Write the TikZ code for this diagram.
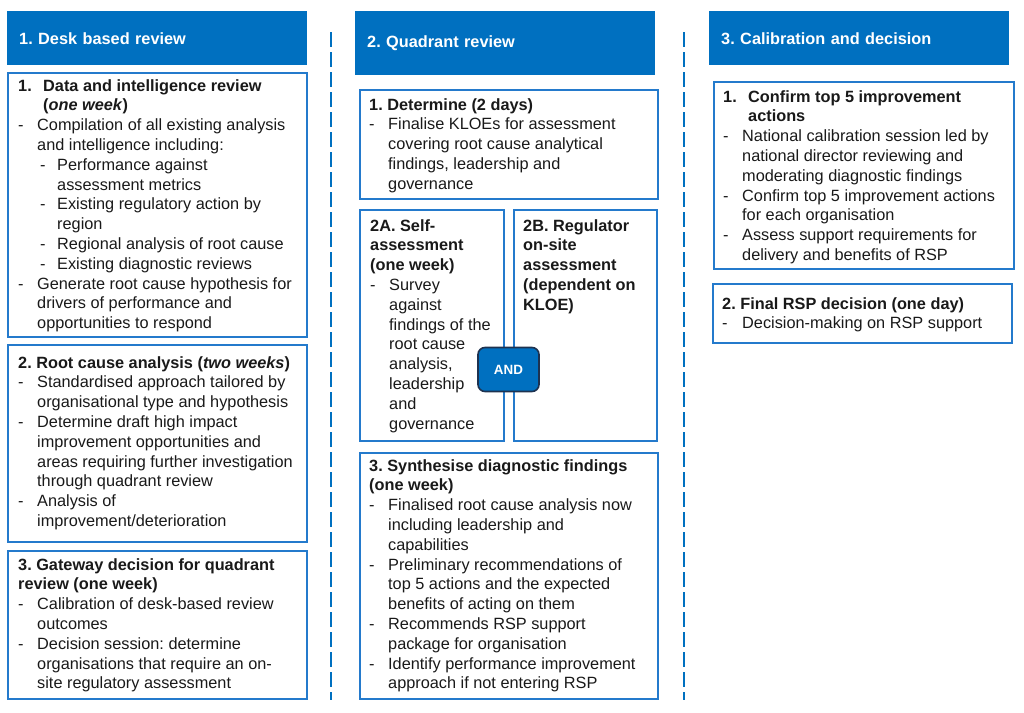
\documentclass[tikz,border=0pt]{standalone}
\usepackage{fontspec}
\setmainfont{Liberation Sans}
\frenchspacing
\definecolor{hdrblue}{HTML}{0070C0}
\definecolor{boxblue}{RGB}{36,122,204}
\definecolor{andedge}{RGB}{30,50,80}
\definecolor{txtcol}{RGB}{25,25,25}
\newcommand{\brk}{\newline}
\newcommand{\hit}[4]{\par\hangindent=#2\hangafter=1\noindent\hspace*{#1}\makebox[\dimexpr#2-#1\relax][l]{#3}#4}
\newcommand{\blk}[1]{\begin{minipage}[t]{300pt}\fontsize{16.3}{19.8}\selectfont\frenchspacing#1\end{minipage}}
\tikzset{
  hdr/.style={fill=hdrblue, draw=none, text=white, font=\fontsize{16.3}{19.8}\selectfont\bfseries\frenchspacing,
    inner xsep=12pt, inner ysep=0pt, text width=276pt, align=left, anchor=north west},
  box/.style={draw=boxblue, line width=2pt, inner sep=0pt, anchor=north west},
  txt/.style={inner sep=0pt, anchor=base west, text=txtcol},
  sep/.style={draw=hdrblue, line width=2pt, dash pattern=on 15pt off 5pt},
  andbox/.style={fill=hdrblue, draw=andedge, line width=1.6pt, rounded corners=7pt, text=white,
    font=\fontsize{13.4}{16}\selectfont\bfseries, minimum width=61pt, minimum height=44pt, inner sep=0pt}
}
\begin{document}
\begin{tikzpicture}[x=1pt,y=-1pt]
\useasboundingbox (0,0) rectangle (1024,712);
% headers
\node[hdr, minimum height=54pt] (h1) at (7,11) {1. Desk based review};
\node[hdr, minimum height=64pt] (h2) at (355,11) {2. Quadrant review};
\node[hdr, minimum height=54pt] (h3) at (709,11) {3. Calibration and decision};
% separators
\coordinate (d1t) at (331,32); \coordinate (d1b) at (331,700);
\coordinate (d2t) at (684,32); \coordinate (d2b) at (684,700);
\draw[sep] (d1t) -- (d1b);
\draw[sep] (d2t) -- (d2b);
% column 1 boxes
\node[box, minimum width=299pt, minimum height=264pt] (b11) at (7,72) {};
\node[box, minimum width=299pt, minimum height=197pt] (b12) at (7,344) {};
\node[box, minimum width=299pt, minimum height=148pt] (b13) at (7,550) {};
% column 2 boxes
\node[box, minimum width=298pt, minimum height=109pt] (b21) at (359,89) {};
\node[box, minimum width=144pt, minimum height=231pt] (b2a) at (359,209) {};
\node[box, minimum width=143pt, minimum height=231pt] (b2b) at (513,209) {};
\node[box, minimum width=298pt, minimum height=246pt] (b23) at (359,452) {};
% column 3 boxes
\node[box, minimum width=300pt, minimum height=187pt] (b31) at (713,81) {};
\node[box, minimum width=299pt, minimum height=59pt] (b32) at (712,283) {};
% AND
\node[andbox] (and) at (508.5,369.5) {AND};
% texts column 1
\node[txt] (t11) at (18,91) {\blk{%
\hit{0pt}{25pt}{\textbf{1.}}{\textbf{Data and intelligence review}\brk\textbf{(\textit{one week})}}
\hit{0pt}{19pt}{-}{Compilation of all existing analysis\brk and intelligence including:}
\hit{22pt}{39pt}{-}{Performance against\brk assessment metrics}
\hit{22pt}{39pt}{-}{Existing regulatory action by\brk region}
\hit{22pt}{39pt}{-}{Regional analysis of root cause}
\hit{22pt}{39pt}{-}{Existing diagnostic reviews}
\hit{0pt}{19pt}{-}{Generate root cause hypothesis for\brk drivers of performance and\brk opportunities to respond}}};
\node[txt] (t12) at (18,368) {\blk{%
\hit{0pt}{0pt}{}{\textbf{2. Root cause analysis (\textit{two weeks})}}
\hit{0pt}{19pt}{-}{Standardised approach tailored by\brk organisational type and hypothesis}
\hit{0pt}{19pt}{-}{Determine draft high impact\brk improvement opportunities and\brk areas requiring further investigation\brk through quadrant review}
\hit{0pt}{19pt}{-}{Analysis of\brk improvement/deterioration}}};
\node[txt] (t13) at (18,570) {\blk{%
\hit{0pt}{0pt}{}{\textbf{3. Gateway decision for quadrant\brk review (one week)}}
\hit{0pt}{19pt}{-}{Calibration of desk-based review\brk outcomes}
\hit{0pt}{19pt}{-}{Decision session: determine\brk organisations that require an on-\brk site regulatory assessment}}};
% texts column 2
\node[txt] (t21) at (369,110) {\blk{%
\hit{0pt}{0pt}{}{\textbf{1. Determine (2 days)}}
\hit{0pt}{19pt}{-}{Finalise KLOEs for assessment\brk covering root cause analytical\brk findings, leadership and\brk governance}}};
\node[txt] (t2a) at (370,231) {\blk{%
\hit{0pt}{0pt}{}{\textbf{2A. Self-\brk assessment\brk (one week)}}
\hit{0pt}{19pt}{-}{Survey\brk against\brk findings of the\brk root cause\brk analysis,\brk leadership\brk and\brk governance}}};
\node[txt] (t2b) at (523,231) {\blk{%
\hit{0pt}{0pt}{}{\textbf{2B. Regulator\brk on-site\brk assessment\brk (dependent on\brk KLOE)}}}};
\node[txt] (t23) at (369,471) {\blk{%
\hit{0pt}{0pt}{}{\textbf{3. Synthesise diagnostic findings\brk (one week)}}
\hit{0pt}{19pt}{-}{Finalised root cause analysis now\brk including leadership and\brk capabilities}
\hit{0pt}{19pt}{-}{Preliminary recommendations of\brk top 5 actions and the expected\brk benefits of acting on them}
\hit{0pt}{19pt}{-}{Recommends RSP support\brk package for organisation}
\hit{0pt}{19pt}{-}{Identify performance improvement\brk approach if not entering RSP}}};
% texts column 3
\node[txt] (t31) at (723,102) {\blk{%
\hit{0pt}{25pt}{\textbf{1.}}{\textbf{Confirm top 5 improvement\brk actions}}
\hit{0pt}{19pt}{-}{National calibration session led by\brk national director reviewing and\brk moderating diagnostic findings}
\hit{0pt}{19pt}{-}{Confirm top 5 improvement actions\brk for each organisation}
\hit{0pt}{19pt}{-}{Assess support requirements for\brk delivery and benefits of RSP}}};
\node[txt] (t32) at (722,309) {\blk{%
\hit{0pt}{0pt}{}{\textbf{2. Final RSP decision (one day)}}
\hit{0pt}{20pt}{-}{Decision-making on RSP support}}};
\end{tikzpicture}
\end{document}
